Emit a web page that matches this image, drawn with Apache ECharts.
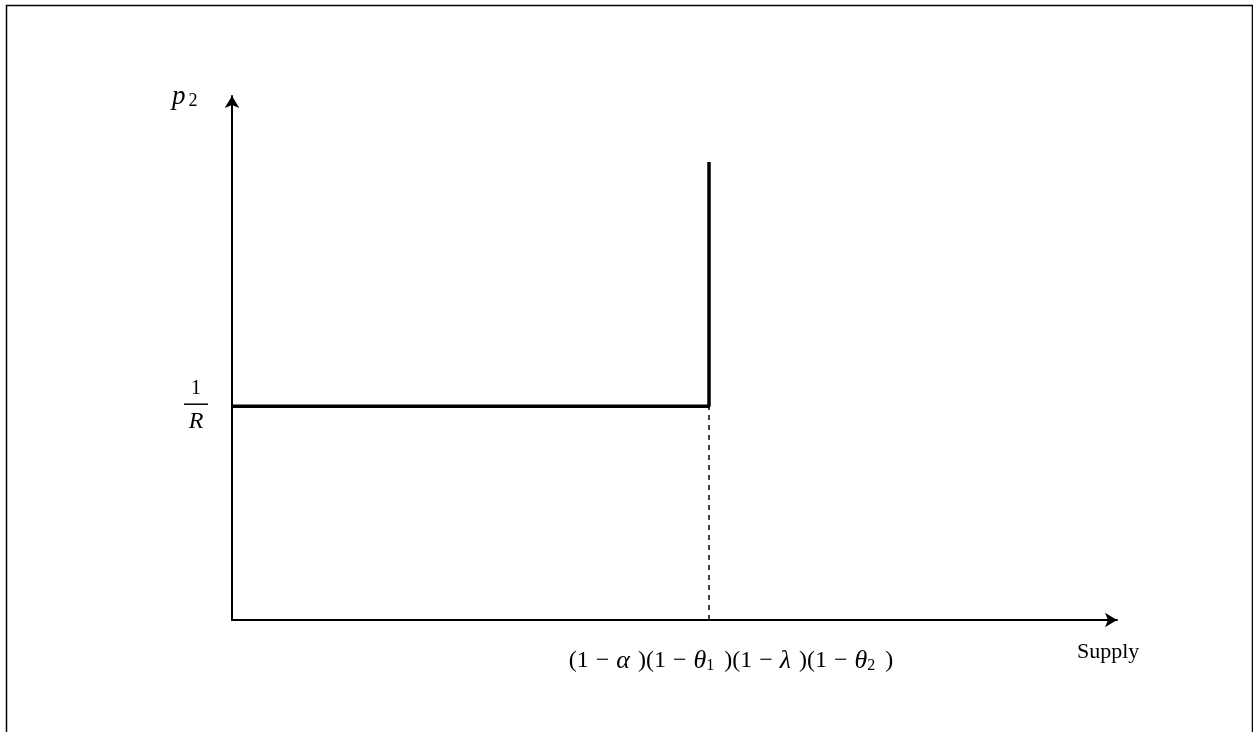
<!DOCTYPE html>
<html lang="en">
<head>
    <meta charset="UTF-8">
    <script src="https://cdn.jsdelivr.net/npm/echarts@6/dist/echarts.min.js"></script>
    <title>Supply</title>
    <style>
        html, body { margin: 0; padding: 0; background: #fff; }
        #t_data { width: 1253px; height: 732px; }
    </style>
</head>
<body>
    <div id="t_data"></div>
</body>
</html>
<script>
    // supply curve: flat at 1/R, then vertical at the capacity
    var supplyX = [0, 53.9, 53.9];
    var supplyY = [40.8, 40.8, 87.4];
    var capacityX = 53.9;   // (1-α)(1-θ1)(1-λ)(1-θ2)
    var priceY = 40.8;      // 1/R

    var serif = 'Liberation Serif';
    var myChart = echarts.init(document.getElementById('t_data'));
    myChart.setOption({
        animation: false,
        grid: { left: 232, right: 136, top: 96, bottom: 112 },
        xAxis: {
            type: 'value', min: 0, max: 100,
            splitLine: { show: false },
            axisTick: { show: false },
            axisLine: { lineStyle: { color: '#000', width: 2 }, symbol: ['none', 'arrow'], symbolSize: [11, 12] },
            axisLabel: {
                customValues: [capacityX],
                margin: 28,
                color: '#000',
                fontFamily: serif,
                fontSize: 24,
                padding: [0, 0, 0, 44],
                formatter: function () {
                    return '{t|(1}{m|−}{i|α}{p|)}{t|(1}{m|−}{i|θ}{s|1}{p|)}{t|(1}{m|−}{i|λ}{p|)}{t|(1}{m|−}{i|θ}{s|2}{p|)}';
                },
                rich: {
                    t: { fontFamily: serif, fontSize: 24, color: '#000' },
                    m: { fontFamily: serif, fontSize: 24, color: '#000', padding: [0, 7, 0, 7] },
                    p: { fontFamily: serif, fontSize: 24, color: '#000', padding: [0, 0, 0, 8] },
                    i: { fontFamily: serif, fontStyle: 'italic', fontSize: 26, color: '#000' },
                    s: { fontFamily: serif, fontSize: 16, color: '#000', verticalAlign: 'bottom', padding: [10, 2, 0, 0] }
                }
            }
        },
        yAxis: {
            type: 'value', min: 0, max: 100,
            splitLine: { show: false },
            axisTick: { show: false },
            axisLine: { lineStyle: { color: '#000', width: 2 }, symbol: ['none', 'arrow'], symbolSize: [11, 12] },
            axisLabel: {
                customValues: [priceY],
                margin: 24,
                color: '#000',
                formatter: function () {
                    return '{n|1}\n{bar|}\n{d|R}';
                },
                rich: {
                    n: { fontFamily: serif, fontSize: 20, lineHeight: 22, align: 'center', color: '#000' },
                    bar: { width: 24, height: 1.5, lineHeight: 8, backgroundColor: '#000', align: 'center' },
                    d: { fontFamily: serif, fontStyle: 'italic', fontSize: 24, lineHeight: 26, align: 'center', color: '#000' }
                }
            }
        },
        graphic: [
            { type: 'rect', shape: { x: 6.5, y: 5.5, width: 1246, height: 760 }, style: { fill: 'none', stroke: '#000', lineWidth: 1.5 } },
            { type: 'text', left: 172, top: 83, style: { text: '{p|p}{s|2}', rich: {
                p: { fontFamily: serif, fontStyle: 'italic', fontSize: 27, fill: '#000' },
                s: { fontFamily: serif, fontSize: 18, fill: '#000', verticalAlign: 'bottom', padding: [10, 0, 0, 3] }
            } } },
            { type: 'text', left: 1077, top: 641, style: { text: 'Supply', fontFamily: serif, fontSize: 22, fill: '#000' } }
        ],
        series: [
            {
                name: 'supply', type: 'line', symbol: 'none',
                data: supplyX.map(function (x, i) { return [x, supplyY[i]]; }),
                lineStyle: { color: '#000', width: 3.5 }
            },
            {
                name: 'guide', type: 'line', symbol: 'none',
                data: [[capacityX, 0], [capacityX, priceY]],
                lineStyle: { color: '#000', width: 1.5, type: [5, 5] }
            }
        ]
    });
</script>
